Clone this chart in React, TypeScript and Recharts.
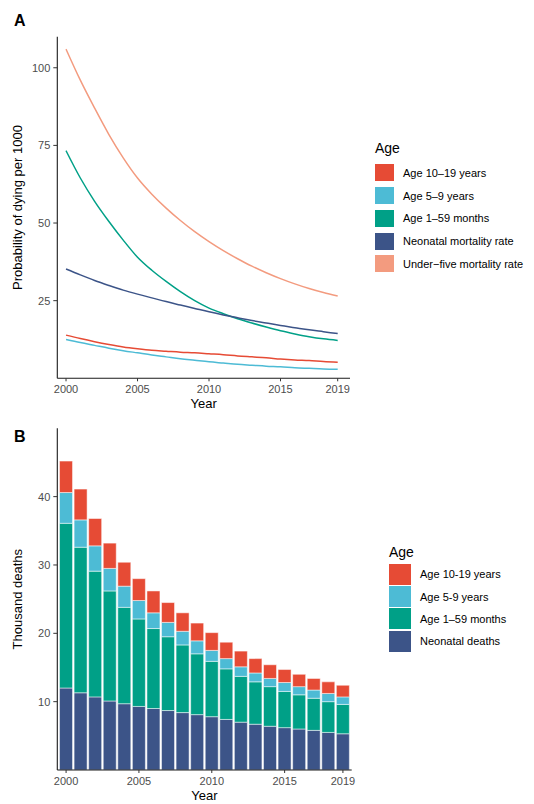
import { Bar, BarChart, Legend, Line, LineChart, XAxis, YAxis } from 'recharts'

const FONT = '"Liberation Sans", Arial, Helvetica, sans-serif'

// shared years
const years = [2000, 2001, 2002, 2003, 2004, 2005, 2006, 2007, 2008, 2009, 2010, 2011, 2012, 2013, 2014, 2015, 2016, 2017, 2018, 2019]
const yearTicks = [2000, 2005, 2010, 2015, 2019]

// panel A: probability of dying per 1000
const rate10to19 = [13.9, 12.8, 11.8, 10.9, 10.1, 9.5, 9.0, 8.7, 8.4, 8.2, 7.9, 7.6, 7.2, 6.9, 6.6, 6.2, 5.9, 5.7, 5.4, 5.2]
const rate5to9 = [12.5, 11.5, 10.6, 9.7, 8.9, 8.2, 7.5, 6.9, 6.3, 5.8, 5.3, 4.9, 4.5, 4.2, 3.9, 3.7, 3.4, 3.2, 3.0, 2.9]
const rate1to59m = [73.3, 64.5, 57, 50.5, 44.5, 39, 34.8, 31.2, 27.9, 25, 22.6, 20.8, 19.2, 17.8, 16.5, 15.3, 14.3, 13.4, 12.7, 12.2]
const rateNeonatal = [35.2, 33.3, 31.5, 29.9, 28.4, 27.1, 25.9, 24.7, 23.6, 22.5, 21.4, 20.4, 19.5, 18.6, 17.8, 17.0, 16.3, 15.6, 15.0, 14.4]
const rateUnder5 = [106, 96, 87, 78.5, 71, 64.5, 59.3, 54.8, 50.8, 47.2, 44.0, 41.1, 38.5, 36.1, 34, 32.1, 30.4, 28.9, 27.6, 26.5]
const rateTicks = [25, 50, 75, 100]

// panel B: thousand deaths (stack segments)
const deathsNeonatal = [12.0, 11.3, 10.7, 10.1, 9.7, 9.3, 9.0, 8.7, 8.4, 8.1, 7.8, 7.4, 7.0, 6.7, 6.4, 6.2, 6.0, 5.8, 5.5, 5.3]
const deaths1to59m = [24.1, 21.3, 18.4, 16.1, 14.1, 12.8, 11.7, 10.8, 9.9, 8.9, 8.1, 7.4, 6.7, 6.2, 5.8, 5.3, 5.0, 4.7, 4.5, 4.3]
const deaths5to9 = [4.5, 4.0, 3.7, 3.3, 3.1, 2.7, 2.3, 2.1, 2.0, 1.9, 1.6, 1.5, 1.4, 1.3, 1.2, 1.3, 1.2, 1.2, 1.2, 1.1]
const deaths10to19 = [4.6, 4.5, 4.0, 3.7, 3.5, 3.2, 3.2, 2.9, 2.7, 2.6, 2.6, 2.4, 2.3, 2.1, 2.0, 1.9, 1.8, 1.7, 1.7, 1.7]
const deathTicks = [10, 20, 30, 40]

const COLORS = {
  red: '#E64B35',
  cyan: '#4DBBD5',
  green: '#00A087',
  navy: '#3C5488',
  salmon: '#F39B7F',
}

const legendA = [
  { label: 'Age 10\u201319 years', color: COLORS.red },
  { label: 'Age 5\u20139 years', color: COLORS.cyan },
  { label: 'Age 1\u201359 months', color: COLORS.green },
  { label: 'Neonatal mortality rate', color: COLORS.navy },
  { label: 'Under\u2212five mortality rate', color: COLORS.salmon },
]

const legendB = [
  { label: 'Age 10-19 years', color: COLORS.red },
  { label: 'Age 5-9 years', color: COLORS.cyan },
  { label: 'Age 1\u201359 months', color: COLORS.green },
  { label: 'Neonatal deaths', color: COLORS.navy },
]

const rateData = years.map((year, i) => ({
  year,
  r10: rate10to19[i],
  r5: rate5to9[i],
  r1: rate1to59m[i],
  neo: rateNeonatal[i],
  u5: rateUnder5[i],
}))

const deathData = years.map((year, i) => ({
  year,
  neo: deathsNeonatal[i],
  m1: deaths1to59m[i],
  y5: deaths5to9[i],
  y10: deaths10to19[i],
}))

const tickStyle = { fill: '#4d4d4d', fontSize: 11, fontFamily: FONT }
const axisLine = { stroke: '#1a1a1a', strokeWidth: 1.1 }
const tickLine = { stroke: '#333' }

type Item = { label: string; color: string }

function AgeLegend({ items, keyW, keyH, rowH, gap }: { items: Item[]; keyW: number; keyH: number; rowH: number; gap: number }) {
  return (
    <div style={{ fontFamily: FONT, color: '#000' }}>
      <div style={{ fontSize: 14, lineHeight: '18px', marginBottom: gap }}>Age</div>
      {items.map((it) => (
        <div key={it.label} style={{ display: 'flex', alignItems: 'center', height: rowH }}>
          <div style={{ width: keyW, height: keyH, background: it.color }} />
          <div style={{ fontSize: 11, marginLeft: 9, whiteSpace: 'nowrap' }}>{it.label}</div>
        </div>
      ))}
    </div>
  )
}

function yTitle(text: string) {
  return ({ viewBox }: any) => {
    const cy = viewBox.y + viewBox.height / 2
    return (
      <text x={22} y={cy} transform={`rotate(-90, 22, ${cy})`} textAnchor="middle" fontSize={13} fontFamily={FONT} fill="#000">
        {text}
      </text>
    )
  }
}

function xTitle({ viewBox }: any) {
  return (
    <text x={viewBox.x + viewBox.width / 2} y={viewBox.y + 30} textAnchor="middle" fontSize={13} fontFamily={FONT} fill="#000">
      Year
    </text>
  )
}

// category axis: only draw selected years
function BarYearTick({ x, y, payload }: any) {
  if (!yearTicks.includes(payload.value)) return <g />
  return (
    <g>
      <line x1={x} x2={x} y1={y - 7} y2={y - 4} stroke="#333" />
      <text x={x} y={y} dy="0.71em" textAnchor="middle" fill="#4d4d4d" fontSize={11} fontFamily={FONT}>
        {payload.value}
      </text>
    </g>
  )
}

export default function App() {
  return (
    <div style={{ position: 'absolute', left: 0, top: 0, width: 534, height: 804, background: '#fff', fontFamily: FONT }}>
      <div style={{ position: 'absolute', left: 14, top: 12, fontSize: 16, fontWeight: 'bold' }}>A</div>
      <div style={{ position: 'absolute', left: 14, top: 428, fontSize: 16, fontWeight: 'bold' }}>B</div>

      <div style={{ position: 'absolute', left: 0, top: 0 }}>
        <LineChart width={534} height={420} data={rateData} margin={{ top: 36.7, right: 184, bottom: 11.7, left: 0 }}>
          <XAxis
            dataKey="year"
            type="number"
            domain={[1999.39, 2019.86]}
            ticks={yearTicks}
            allowDataOverflow
            height={30}
            tick={tickStyle}
            tickSize={3}
            tickMargin={4}
            axisLine={axisLine}
            tickLine={tickLine}
            label={{ content: xTitle }}
          />
          <YAxis
            type="number"
            domain={[0, 110]}
            ticks={rateTicks}
            allowDataOverflow
            width={57.3}
            tick={tickStyle}
            tickSize={4}
            tickMargin={3}
            axisLine={axisLine}
            tickLine={tickLine}
            label={{ content: yTitle('Probability of dying per 1000') }}
          />
          <Legend
            layout="vertical"
            align="center"
            verticalAlign="middle"
            wrapperStyle={{ left: 375, top: 139, width: 160, height: 140 }}
            content={() => <AgeLegend items={legendA} keyW={19} keyH={17} rowH={22.75} gap={4.6} />}
          />
          <Line type="monotone" dataKey="u5" stroke={COLORS.salmon} strokeWidth={1.5} dot={false} isAnimationActive={false} />
          <Line type="monotone" dataKey="r1" stroke={COLORS.green} strokeWidth={1.5} dot={false} isAnimationActive={false} />
          <Line type="monotone" dataKey="neo" stroke={COLORS.navy} strokeWidth={1.5} dot={false} isAnimationActive={false} />
          <Line type="monotone" dataKey="r10" stroke={COLORS.red} strokeWidth={1.5} dot={false} isAnimationActive={false} />
          <Line type="monotone" dataKey="r5" stroke={COLORS.cyan} strokeWidth={1.5} dot={false} isAnimationActive={false} />
        </LineChart>
      </div>

      <div style={{ position: 'absolute', left: 0, top: 420 }}>
        <BarChart width={534} height={384} data={deathData} barCategoryGap="5%" margin={{ top: 8.3, right: 182.3, bottom: 4, left: 0 }}>
          <XAxis
            dataKey="year"
            interval={0}
            padding={{ left: 1.5, right: 1.5 }}
            height={30}
            tick={<BarYearTick />}
            tickSize={3}
            tickMargin={4}
            tickLine={false}
            axisLine={axisLine}
            label={{ content: xTitle }}
          />
          <YAxis
            type="number"
            domain={[0, 50]}
            ticks={deathTicks}
            allowDataOverflow
            width={57.3}
            tick={tickStyle}
            tickSize={4}
            tickMargin={3}
            axisLine={axisLine}
            tickLine={tickLine}
            label={{ content: yTitle('Thousand deaths') }}
          />
          <Legend
            layout="vertical"
            align="center"
            verticalAlign="middle"
            wrapperStyle={{ left: 389, top: 122.7, width: 145, height: 120 }}
            content={() => <AgeLegend items={legendB} keyW={22} keyH={21} rowH={22.4} gap={2.3} />}
          />
          <Bar dataKey="neo" stackId="a" fill={COLORS.navy} stroke="#fff" strokeWidth={0.5} isAnimationActive={false} />
          <Bar dataKey="m1" stackId="a" fill={COLORS.green} stroke="#fff" strokeWidth={0.5} isAnimationActive={false} />
          <Bar dataKey="y5" stackId="a" fill={COLORS.cyan} stroke="#fff" strokeWidth={0.5} isAnimationActive={false} />
          <Bar dataKey="y10" stackId="a" fill={COLORS.red} stroke="#fff" strokeWidth={0.5} isAnimationActive={false} />
        </BarChart>
      </div>
    </div>
  )
}
